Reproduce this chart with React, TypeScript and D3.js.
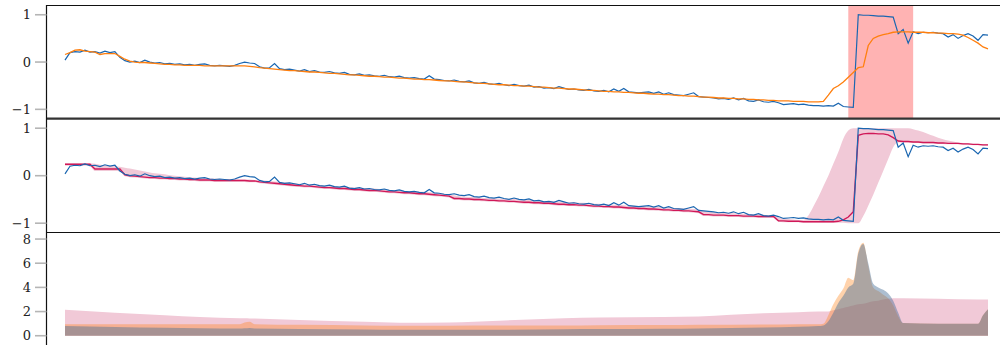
import React from "react";
import * as d3 from "d3";

// Observed signal (one sample per step)
const observed = [
  0.04, 0.2, 0.22, 0.21, 0.25, 0.21, 0.22, 0.19, 0.23, 0.2,
  0.22, 0.1, 0.03, 0.0, 0.02, -0.01, 0.04, 0.0, -0.02, -0.01,
  -0.04, -0.03, -0.05, -0.04, -0.06, -0.05, -0.07, -0.05, -0.04, -0.07,
  -0.08, -0.07, -0.08, -0.09, -0.07, -0.03, 0.0, -0.02, -0.03, -0.1,
  -0.13, -0.12, -0.03, -0.14, -0.16, -0.15, -0.17, -0.19, -0.16, -0.2,
  -0.18, -0.21, -0.22, -0.2, -0.23, -0.24, -0.22, -0.26, -0.27, -0.25,
  -0.28, -0.27, -0.29, -0.3, -0.28, -0.31, -0.32, -0.3, -0.33, -0.34,
  -0.33, -0.35, -0.36, -0.29, -0.36, -0.37, -0.39, -0.4, -0.38, -0.41,
  -0.42, -0.4, -0.44, -0.45, -0.43, -0.46, -0.47, -0.45, -0.48, -0.5,
  -0.47, -0.5, -0.51, -0.49, -0.53, -0.52, -0.55, -0.54, -0.56, -0.52,
  -0.55, -0.58, -0.57, -0.59, -0.6, -0.58, -0.61, -0.62, -0.6, -0.63,
  -0.57, -0.62, -0.56, -0.63, -0.64, -0.65, -0.64, -0.63, -0.66, -0.63,
  -0.68, -0.65, -0.69, -0.7, -0.71, -0.68, -0.65, -0.73, -0.74, -0.75,
  -0.76, -0.78, -0.77, -0.79, -0.76, -0.8, -0.77, -0.82, -0.83, -0.8,
  -0.84, -0.85, -0.83, -0.86, -0.9, -0.89, -0.88, -0.9, -0.89, -0.91,
  -0.92, -0.92, -0.93, -0.92, -0.93, -0.87, -0.94, -0.95, -0.96, 1.0,
  0.99, 0.99, 0.98, 0.97, 0.97, 0.96, 0.95, 0.6, 0.69, 0.4,
  0.64, 0.6, 0.63, 0.62, 0.63, 0.61, 0.6, 0.53, 0.58, 0.5,
  0.56, 0.6, 0.55, 0.46, 0.58, 0.57,
];

// Smoothed estimate (top panel)
const smoothed = [
  0.16, 0.2, 0.25, 0.26, 0.23, 0.22, 0.21, 0.16, 0.18, 0.18,
  0.18, 0.12, 0.06, 0.02, 0.0, -0.01, -0.01, -0.02, -0.03, -0.04,
  -0.05, -0.05, -0.06, -0.06, -0.07, -0.07, -0.07, -0.07, -0.08, -0.08,
  -0.08, -0.08, -0.08, -0.08, -0.08, -0.08, -0.08, -0.09, -0.1, -0.12,
  -0.13, -0.14, -0.15, -0.16, -0.17, -0.18, -0.18, -0.19, -0.2, -0.21,
  -0.21, -0.22, -0.23, -0.24, -0.24, -0.25, -0.26, -0.27, -0.27, -0.28,
  -0.29, -0.3, -0.3, -0.31, -0.32, -0.32, -0.33, -0.34, -0.34, -0.35,
  -0.36, -0.36, -0.37, -0.37, -0.38, -0.39, -0.4, -0.4, -0.41, -0.42,
  -0.42, -0.43, -0.44, -0.45, -0.45, -0.46, -0.47, -0.48, -0.48, -0.49,
  -0.5, -0.5, -0.51, -0.51, -0.52, -0.53, -0.53, -0.54, -0.55, -0.55,
  -0.56, -0.57, -0.57, -0.58, -0.59, -0.6, -0.6, -0.61, -0.62, -0.62,
  -0.63, -0.63, -0.64, -0.64, -0.65, -0.66, -0.66, -0.67, -0.68, -0.68,
  -0.69, -0.69, -0.7, -0.71, -0.71, -0.72, -0.72, -0.73, -0.74, -0.74,
  -0.75, -0.76, -0.76, -0.77, -0.77, -0.78, -0.78, -0.79, -0.79, -0.8,
  -0.8, -0.81, -0.81, -0.82, -0.82, -0.82, -0.83, -0.83, -0.83, -0.84,
  -0.84, -0.84, -0.83, -0.7, -0.56, -0.5, -0.42, -0.32, -0.22, -0.12,
  -0.1, 0.35, 0.5, 0.55, 0.58, 0.6, 0.63, 0.64, 0.64, 0.64,
  0.63, 0.63, 0.63, 0.62, 0.62, 0.61, 0.61, 0.6, 0.6, 0.59,
  0.57, 0.52, 0.46, 0.4, 0.32, 0.28,
];

// Fitted mean (middle panel)
const fitted = [
  0.24, 0.24, 0.24, 0.24, 0.24, 0.24, 0.14, 0.14, 0.14, 0.14,
  0.14, 0.14, 0.02, 0.0, -0.01, -0.02, -0.03, -0.04, -0.04, -0.05,
  -0.05, -0.06, -0.06, -0.07, -0.07, -0.08, -0.08, -0.09, -0.09, -0.09,
  -0.1, -0.1, -0.1, -0.1, -0.1, -0.1, -0.1, -0.11, -0.11, -0.13,
  -0.14, -0.15, -0.16, -0.17, -0.18, -0.19, -0.2, -0.21, -0.22, -0.22,
  -0.23, -0.24, -0.25, -0.25, -0.26, -0.27, -0.27, -0.28, -0.29, -0.29,
  -0.3, -0.31, -0.31, -0.32, -0.33, -0.34, -0.34, -0.35, -0.36, -0.36,
  -0.37, -0.38, -0.38, -0.39, -0.4, -0.41, -0.42, -0.43, -0.48, -0.48,
  -0.49, -0.49, -0.5, -0.5, -0.51, -0.52, -0.52, -0.53, -0.53, -0.54,
  -0.54, -0.55, -0.56, -0.56, -0.57, -0.57, -0.58, -0.58, -0.59, -0.6,
  -0.6, -0.61, -0.61, -0.62, -0.62, -0.63, -0.64, -0.64, -0.65, -0.65,
  -0.66, -0.66, -0.67, -0.68, -0.68, -0.69, -0.69, -0.7, -0.7, -0.71,
  -0.72, -0.72, -0.73, -0.73, -0.74, -0.74, -0.75, -0.76, -0.82, -0.82,
  -0.83, -0.83, -0.83, -0.84, -0.84, -0.84, -0.85, -0.85, -0.85, -0.86,
  -0.86, -0.86, -0.86, -0.95, -0.95, -0.96, -0.96, -0.96, -0.97, -0.97,
  -0.97, -0.97, -0.97, -0.97, -0.97, -0.96, -0.93, -0.87, -0.76, 0.85,
  0.88, 0.89, 0.89, 0.88, 0.88, 0.86, 0.8, 0.73, 0.72, 0.72,
  0.71, 0.71, 0.7, 0.7, 0.7, 0.69, 0.69, 0.68, 0.68, 0.68,
  0.67, 0.67, 0.66, 0.66, 0.65, 0.65,
];

// Credible band around the fitted mean
const bandHigh = [
  0.26, 0.26, 0.26, 0.26, 0.26, 0.26, 0.25, 0.23, 0.22, 0.21,
  0.2, 0.19, 0.17, 0.15, 0.13, 0.11, 0.09, 0.07, 0.05, 0.04,
  0.03, 0.01, 0.0, -0.01, -0.02, -0.03, -0.04, -0.05, -0.05, -0.06,
  -0.06, -0.07, -0.07, -0.07, -0.08, -0.08, -0.08, -0.08, -0.09, -0.1,
  -0.1, -0.11, -0.12, -0.13, -0.14, -0.15, -0.16, -0.17, -0.18, -0.18,
  -0.19, -0.2, -0.21, -0.21, -0.22, -0.23, -0.23, -0.24, -0.25, -0.25,
  -0.26, -0.27, -0.27, -0.28, -0.29, -0.3, -0.3, -0.31, -0.32, -0.32,
  -0.33, -0.34, -0.34, -0.35, -0.36, -0.37, -0.38, -0.39, -0.41, -0.43,
  -0.44, -0.45, -0.45, -0.46, -0.47, -0.47, -0.48, -0.48, -0.49, -0.49,
  -0.49, -0.5, -0.51, -0.51, -0.52, -0.52, -0.53, -0.53, -0.54, -0.55,
  -0.55, -0.56, -0.56, -0.57, -0.57, -0.58, -0.59, -0.59, -0.6, -0.6,
  -0.61, -0.61, -0.62, -0.63, -0.63, -0.64, -0.64, -0.65, -0.65, -0.66,
  -0.67, -0.67, -0.68, -0.68, -0.69, -0.69, -0.7, -0.71, -0.74, -0.76,
  -0.77, -0.78, -0.78, -0.79, -0.79, -0.8, -0.8, -0.81, -0.81, -0.82,
  -0.82, -0.83, -0.84, -0.88, -0.9, -0.91, -0.92, -0.93, -0.93, -0.84,
  -0.65, -0.45, -0.22, 0.0, 0.25, 0.5, 0.78, 0.95, 1.0, 1.0,
  1.0, 1.0, 1.0, 1.0, 1.0, 1.0, 1.0, 1.0, 1.0, 1.0,
  0.98, 0.95, 0.92, 0.88, 0.84, 0.8, 0.77, 0.74, 0.72, 0.7,
  0.69, 0.68, 0.67, 0.67, 0.66, 0.66,
];

const bandLow = [
  0.21, 0.21, 0.21, 0.21, 0.21, 0.2, 0.1, 0.1, 0.1, 0.1,
  0.1, 0.09, -0.01, -0.03, -0.04, -0.05, -0.06, -0.07, -0.07, -0.08,
  -0.08, -0.09, -0.09, -0.1, -0.1, -0.11, -0.11, -0.12, -0.12, -0.12,
  -0.13, -0.13, -0.13, -0.13, -0.13, -0.13, -0.13, -0.14, -0.14, -0.16,
  -0.17, -0.18, -0.19, -0.2, -0.21, -0.22, -0.23, -0.24, -0.25, -0.25,
  -0.26, -0.27, -0.28, -0.28, -0.29, -0.3, -0.3, -0.31, -0.32, -0.32,
  -0.33, -0.34, -0.34, -0.35, -0.36, -0.37, -0.37, -0.38, -0.39, -0.39,
  -0.4, -0.41, -0.41, -0.42, -0.43, -0.44, -0.45, -0.46, -0.51, -0.51,
  -0.52, -0.52, -0.53, -0.53, -0.54, -0.55, -0.55, -0.56, -0.56, -0.57,
  -0.57, -0.58, -0.59, -0.59, -0.6, -0.6, -0.61, -0.61, -0.62, -0.63,
  -0.63, -0.64, -0.64, -0.65, -0.65, -0.66, -0.67, -0.67, -0.68, -0.68,
  -0.69, -0.69, -0.7, -0.71, -0.71, -0.72, -0.72, -0.73, -0.73, -0.74,
  -0.75, -0.75, -0.76, -0.76, -0.77, -0.77, -0.78, -0.79, -0.85, -0.85,
  -0.86, -0.86, -0.86, -0.87, -0.87, -0.87, -0.88, -0.88, -0.88, -0.89,
  -0.89, -0.89, -0.89, -0.97, -0.98, -0.98, -0.98, -0.98, -0.99, -0.99,
  -0.99, -0.99, -0.99, -0.99, -0.99, -0.99, -0.99, -1.0, -1.0, -1.0,
  -0.85, -0.63, -0.4, -0.15, 0.1, 0.35, 0.6, 0.7, 0.7, 0.7,
  0.69, 0.69, 0.68, 0.68, 0.68, 0.67, 0.67, 0.66, 0.66, 0.66,
  0.65, 0.65, 0.64, 0.64, 0.63, 0.63,
];

// Flagged interval (sample indices)
const flagged = [157, 170];

// Bottom panel: spread measures at knot positions (sample indices)
const knotIdx = [
  0, 10, 20, 27, 35, 36, 37, 38, 47, 60, 67, 77, 87, 100, 107, 120, 127, 140, 147,
  151, 152, 153, 154, 155, 156, 157, 158, 159, 160, 161, 162, 163, 164, 165, 166, 167, 168,
  175, 183, 184, 185,
];
const spreadBand = [
  2.15, 1.9, 1.7, 1.55, 1.45, 1.44, 1.43, 1.42, 1.3, 1.15, 1.07, 1.1, 1.25, 1.45, 1.5, 1.55, 1.6, 1.85, 1.95,
  2.0, 2.0, 2.0, 2.1, 2.2, 2.3, 2.4, 2.5, 2.6, 2.65, 2.75, 2.85, 2.9, 3.0, 3.05, 3.1, 3.1, 3.1,
  3.05, 3.0, 3.0, 3.0,
];
const spreadSmooth = [
  0.95, 0.95, 0.95, 0.95, 0.95, 1.1, 1.15, 0.95, 0.9, 0.85, 0.82, 0.83, 0.85, 0.85, 0.87, 0.88, 0.9, 0.92, 0.95,
  0.95, 1.0, 1.7, 2.6, 3.3, 3.9, 4.8, 4.6, 7.0, 7.7, 5.8, 4.0, 3.7, 3.4, 3.1, 2.5, 1.6, 1.05,
  1.0, 1.0, 1.7, 2.2,
];
const spreadFit = [
  0.8, 0.72, 0.66, 0.62, 0.6, 0.62, 0.65, 0.6, 0.56, 0.52, 0.5, 0.5, 0.5, 0.53, 0.55, 0.58, 0.6, 0.68, 0.75,
  0.8, 0.85, 1.2, 1.9, 2.7, 3.3, 4.0, 4.3, 6.8, 7.6, 6.0, 4.3, 4.0, 3.8, 3.5, 2.9, 1.9, 1.05,
  1.0, 1.0, 1.7, 2.2,
];

const signalTicks = [-1, 0, 1];
const spreadTicks = [0, 2, 4, 6, 8];

const W = 1000;
const H = 345;
const AXIS_X = 46.5;

const BLUE = "#1a66b0";
const ORANGE = "#ff7f0e";
const CRIMSON = "#d01858";
const PINK = "rgb(241,201,215)";

const fmt = (v: number) => (v < 0 ? "\u2212" + Math.abs(v) : String(v));

function Ticks({ scale, values }: { scale: d3.ScaleLinear<number, number>; values: number[] }) {
  return (
    <g>
      {values.map((v) => (
        <g key={v} transform={`translate(0,${scale(v)})`}>
          <line x1={35} x2={AXIS_X} y1={0} y2={0} stroke="#b5b5b5" strokeWidth={1.6} />
          <text
            x={31}
            y={0}
            dy="0.35em"
            textAnchor="end"
            fontFamily="'DejaVu Serif', serif"
            fontSize={13}
            fill="#222"
          >
            {fmt(v)}
          </text>
        </g>
      ))}
    </g>
  );
}

export default function App() {
  const x = d3.scaleLinear().domain([0, observed.length - 1]).range([65, 988]);
  const y1 = d3.scaleLinear().domain([-1.2, 1.2]).range([118.8, 5.3]);
  const y2 = d3.scaleLinear().domain([-1.2, 1.2]).range([232.7, 118.7]);
  const y3 = d3.scaleLinear().domain([-0.8, 8.6]).range([345.4, 231.8]);

  const line1 = d3.line<number>().x((_, i) => x(i)).y((d) => y1(d));
  const line2 = d3.line<number>().x((_, i) => x(i)).y((d) => y2(d));
  const band = d3
    .area<number>()
    .x((_, i) => x(i))
    .y0((_, i) => y2(bandLow[i]))
    .y1((_, i) => y2(bandHigh[i]))
    .curve(d3.curveMonotoneX);
  const spreadArea = (vals: number[]) =>
    d3
      .area<number>()
      .x((d) => x(d))
      .y0(y3(0))
      .y1((_, i) => y3(vals[i]))
      .curve(d3.curveMonotoneX)(knotIdx) || "";

  return (
    <svg
      width={W}
      height={H}
      style={{ position: "fixed", left: 0, top: 0, background: "#fff" }}
    >
      <defs>
        <clipPath id="p1">
          <rect x={AXIS_X} y={5.5} width={W} height={112.5} />
        </clipPath>
        <clipPath id="p2">
          <rect x={AXIS_X} y={119.5} width={W} height={112.5} />
        </clipPath>
        <clipPath id="p3">
          <rect x={AXIS_X} y={233} width={W} height={120} />
        </clipPath>
      </defs>

      {/* top panel: observed vs smoothed, flagged interval */}
      <g clipPath="url(#p1)">
        <rect
          x={x(flagged[0])}
          y={5}
          width={x(flagged[1]) - x(flagged[0])}
          height={114}
          fill="#ffb3b3"
        />
        <path d={line1(observed) || ""} fill="none" stroke={BLUE} strokeWidth={1.2} />
        <path d={line1(smoothed) || ""} fill="none" stroke={ORANGE} strokeWidth={1.3} />
      </g>

      {/* middle panel: observed vs fitted mean with band */}
      <g clipPath="url(#p2)">
        <path d={band(observed) || ""} fill={PINK} />
        <path d={line2(fitted) || ""} fill="none" stroke={CRIMSON} strokeWidth={1.4} />
        <path d={line2(observed) || ""} fill="none" stroke={BLUE} strokeWidth={1.2} />
      </g>

      {/* bottom panel: spread measures */}
      <g clipPath="url(#p3)">
        <path d={spreadArea(spreadBand)} fill={PINK} />
        <path d={spreadArea(spreadSmooth)} fill={ORANGE} fillOpacity={0.35} />
        <path d={spreadArea(spreadFit)} fill="rgb(70,110,150)" fillOpacity={0.45} />
      </g>

      {/* frames */}
      <line x1={AXIS_X} x2={W} y1={5.5} y2={5.5} stroke="#111" strokeWidth={1.2} />
      <line x1={AXIS_X} x2={W} y1={118.6} y2={118.6} stroke="#333" strokeWidth={2.2} />
      <line x1={AXIS_X} x2={W} y1={232.5} y2={232.5} stroke="#111" strokeWidth={1.2} />
      <line x1={AXIS_X} x2={AXIS_X} y1={5} y2={H} stroke="#111" strokeWidth={1.2} />

      <Ticks scale={y1} values={signalTicks} />
      <Ticks scale={y2} values={signalTicks} />
      <Ticks scale={y3} values={spreadTicks} />
    </svg>
  );
}
